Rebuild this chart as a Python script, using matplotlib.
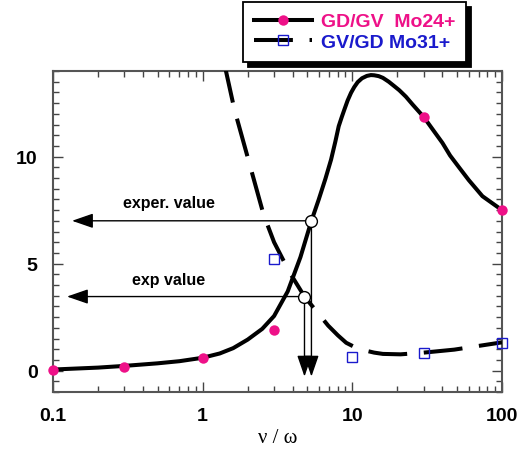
import numpy as np
import matplotlib.pyplot as plt
from matplotlib.lines import Line2D
from matplotlib.ticker import MultipleLocator, LogLocator, NullFormatter

plt.rcParams['font.family'] = ['Liberation Sans', 'DejaVu Sans']
plt.rcParams['lines.scale_dashes'] = False

gdgv_curve_x = [0.1, 0.2, 0.3, 0.5, 0.7, 1.0, 1.3, 1.6, 2.0, 2.5, 3.0, 3.7, 4.5, 5.33, 5.96,
                6.6, 7.21, 7.7, 8.11, 8.5, 8.85, 9.3, 9.8, 10.3, 10.86, 11.6, 12.5, 13.3,
                14.0, 15.0, 16.0, 17.5, 19.0, 20.6, 22.8, 25.3, 30.0, 35.0, 40.0,
                45.0, 51.6, 60.0, 74.0, 87.0, 100.0]
gdgv_curve_y = [0.05, 0.14, 0.22, 0.34, 0.44, 0.6, 0.8, 1.05, 1.45, 1.95, 2.55, 3.7, 5.3, 7.0, 7.99,
                8.95, 9.86, 10.7, 11.42, 11.85, 12.2, 12.62, 12.98, 13.25, 13.48, 13.66, 13.77, 13.81,
                13.8, 13.76, 13.68, 13.5, 13.3, 13.1, 12.8, 12.43, 11.85, 11.2, 10.64,
                10.05, 9.5, 8.9, 8.15, 7.8, 7.5]
gdgv_pts_x = [0.1, 0.3, 1.0, 3.0, 30.0, 100.0]
gdgv_pts_y = [0.05, 0.17, 0.58, 1.9, 11.85, 7.5]

# GV/GD Mo31+
gvgd_curve_x = [1.40, 1.63, 2.03, 2.55, 3.0, 3.8, 4.79, 6.9, 8.0, 9.1, 10.5, 12.0, 14.0, 16.0,
                21.0, 30.0, 48.0, 100.0]
gvgd_curve_y = [14.3, 12.2, 9.8, 7.3, 6.0, 4.6, 3.46, 2.1, 1.65, 1.3, 1.08, 0.95, 0.84, 0.78,
                0.76, 0.84, 0.98, 1.32]
gvgd_pts_x = [3.0, 10.0, 30.0, 100.0]
gvgd_pts_y = [5.2, 0.65, 0.82, 1.3]

# experimental read-offs
exper_x, exper_y = 5.33, 7.0
exp_x, exp_y = 4.79, 3.46
arrow_left = [0.134, 0.124]
arrow_bottom = -0.28

pink = '#ee1188'
blue = '#1a1acc'
dash = (28, 12)

fig = plt.figure(figsize=(5.26, 4.52), dpi=100)
ax = fig.add_axes([53/526, 1-393/452, 449/526, 321/452])

ax.plot(gdgv_curve_x, gdgv_curve_y, color='k', lw=2.9, solid_capstyle='butt',
        solid_joinstyle='round', zorder=3)
ax.plot(gdgv_pts_x, gdgv_pts_y, 'o', color=pink, ms=7.5, mec='none', zorder=4, clip_on=False)
ax.plot(gvgd_curve_x, gvgd_curve_y, color='k', lw=2.9, dashes=dash, dash_capstyle='butt',
        dash_joinstyle='round', zorder=3)
ax.plot(gvgd_pts_x, gvgd_pts_y, 's', mfc='none', mec=blue, ms=7.5, mew=1, zorder=4, clip_on=False)

# arrows
hp = dict(arrowstyle='-|>,head_length=1.3,head_width=0.45', lw=1, color='k',
          shrinkA=0, shrinkB=0)
ax.annotate('', xy=(arrow_left[0], exper_y), xytext=(exper_x, exper_y), arrowprops=hp, zorder=5)
ax.annotate('', xy=(arrow_left[1], exp_y), xytext=(exp_x, exp_y), arrowprops=hp, zorder=5)
ax.annotate('', xy=(exper_x, arrow_bottom), xytext=(exper_x, exper_y), arrowprops=hp, zorder=5)
ax.annotate('', xy=(exp_x, arrow_bottom), xytext=(exp_x, exp_y), arrowprops=hp, zorder=5)
ax.plot([exper_x, exp_x], [exper_y, exp_y], 'o', mfc='white', mec='k', ms=8.5, mew=1, zorder=6)

ax.text(0.593, 7.85, 'exper. value', ha='center', va='center', fontsize=11.5, fontweight='bold')
ax.text(0.593, 4.25, 'exp value', ha='center', va='center', fontsize=11.5, fontweight='bold')

ax.set_xscale('log')
ax.set_xlim(0.1, 100)
ax.set_ylim(-1, 14)
ax.set_xticks([0.1, 1, 10, 100])
ax.set_xticklabels(['0.1', '1', '10', '100'])
ax.xaxis.set_minor_locator(LogLocator(base=10, subs=np.arange(2, 10)))
ax.xaxis.set_minor_formatter(NullFormatter())
ax.yaxis.set_major_locator(MultipleLocator(5))
ax.yaxis.set_minor_locator(MultipleLocator(0.5))
ax.tick_params(which='both', direction='in', top=True, right=True, color='#444444')
ax.tick_params(which='major', length=7, width=1, labelsize=14, pad=11)
ax.tick_params(which='minor', length=4, width=1)
for lab in ax.get_xticklabels() + ax.get_yticklabels():
    lab.set_fontweight('bold')
for s in ax.spines.values():
    s.set_color('#555555')
    s.set_linewidth(1.5)

ax.set_xlabel('ν / ω', fontsize=15, family='Liberation Serif', labelpad=3)

h1 = Line2D([], [], color='k', lw=2.9, marker='o', mfc=pink, mec='none', ms=7.5)
h2 = Line2D([], [], color='k', lw=2.9, dashes=dash, dash_capstyle='butt',
            marker='s', mfc='none', mec=blue, ms=7.5, mew=1)
leg = fig.legend([h1, h2], ['GD/GV  Mo24+', 'GV/GD Mo31+'], loc='upper left',
                 bbox_to_anchor=(243/526, 1-3/452), borderaxespad=0, borderpad=0.55,
                 labelspacing=0.17, handlelength=3, handletextpad=0.45, numpoints=1,
                 fancybox=False, edgecolor='black', framealpha=1,
                 shadow={'color': 'black', 'alpha': 1, 'ox': 3.5, 'oy': -3.5},
                 prop={'size': 14, 'weight': 'bold'})
leg.get_frame().set_linewidth(1.3)
leg.get_texts()[0].set_color(pink)
leg.get_texts()[1].set_color(blue)

fig.savefig('out.png', dpi=100)
